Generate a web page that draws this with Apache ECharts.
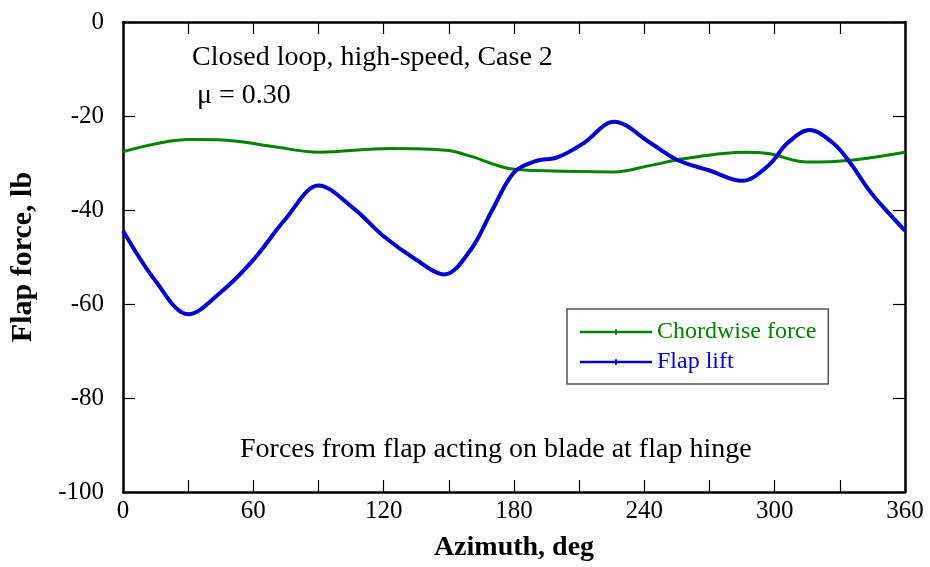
<!DOCTYPE html>
<html><head><meta charset="utf-8">
<script src="https://cdn.jsdelivr.net/npm/echarts@6/dist/echarts.min.js"></script>
<style>html,body{margin:0;padding:0;background:#fff}#c{width:930px;height:567px}</style>
</head><body><div id="c"></div>
<script>
const chordAz = [0, 30, 46, 69, 90, 123, 149, 161, 176, 190, 226, 243, 258, 286, 297, 315, 335, 360];
const chordForce = [-27.6, -25.0, -25.1, -26.5, -27.7, -26.9, -27.3, -28.7, -31.0, -31.6, -31.9, -30.5, -29.1, -27.7, -28.0, -29.8, -29.4, -27.7];
const liftAz = [0, 15, 30, 45, 60, 75, 90, 106, 120, 135, 148, 160, 170, 180, 190, 200, 212, 226, 243, 255, 270, 285, 297, 306, 316, 327, 335, 343, 350, 360];
const flapLift = [-44.4, -55.1, -62.2, -57.5, -50.6, -41.8, -34.8, -39.6, -45.6, -50.6, -53.7, -48.5, -40.0, -32.0, -29.6, -28.8, -25.8, -21.2, -25.8, -29.3, -31.6, -33.8, -30.6, -25.7, -23.0, -25.8, -30.1, -35.5, -39.4, -44.4];
const xTicks = [0, 60, 120, 180, 240, 300, 360];
const seriesNames = ['Chordwise force', 'Flap lift'];

const green = '#008200', blue = '#0000d2';
const font = 'Liberation Serif';
const chart = echarts.init(document.getElementById('c'));
const pair = (xs, ys) => xs.map((x, i) => [x, ys[i]]);
const axLine = {show: true, onZero: false, lineStyle: {color: '#000', width: 2.5}};
const ticks = {show: true, inside: true, length: 12, lineStyle: {color: '#000', width: 1.2}};
const icon = 'path://M0,4 L72,4 L72,6.5 L0,6.5 Z M35,2.5 L37,2.5 L37,8 L35,8 Z';
chart.setOption({
  animation: false,
  grid: {left: 123, right: 25, top: 22, bottom: 75},
  xAxis: [{
    type: 'value', min: 0, max: 360, interval: 30, position: 'bottom',
    name: 'Azimuth, deg', nameLocation: 'middle', nameGap: 42,
    nameTextStyle: {fontFamily: font, fontWeight: 'bold', fontSize: 28, color: '#000'},
    axisLine: axLine, axisTick: ticks, splitLine: {show: false},
    axisLabel: {fontFamily: font, fontSize: 25, color: '#000', margin: 7,
      formatter: v => xTicks.indexOf(v) >= 0 ? String(v) : ''}
  }, {
    type: 'value', min: 0, max: 360, interval: 30, position: 'top',
    axisLine: axLine, axisTick: ticks, axisLabel: {show: false}, splitLine: {show: false}
  }],
  yAxis: [{
    type: 'value', min: -100, max: 0, interval: 20, position: 'left',
    name: 'Flap force, lb', nameLocation: 'middle', nameGap: 85, nameRotate: 90,
    nameTextStyle: {fontFamily: font, fontWeight: 'bold', fontSize: 30, color: '#000'},
    axisLine: axLine, axisTick: ticks, splitLine: {show: false},
    axisLabel: {fontFamily: font, fontSize: 25, color: '#000', margin: 19}
  }, {
    type: 'value', min: -100, max: 0, interval: 20, position: 'right',
    axisLine: axLine, axisTick: ticks, axisLabel: {show: false}, splitLine: {show: false}
  }],
  legend: {
    orient: 'vertical', left: 567, top: 309,
    itemWidth: 72, itemHeight: 10, itemGap: 6,
    backgroundColor: '#fff', borderColor: '#555', borderWidth: 1.5,
    padding: [11, 12, 10, 13],
    textStyle: {fontFamily: font, fontSize: 24},
    data: [
      {name: seriesNames[0], icon: icon, textStyle: {color: green}},
      {name: seriesNames[1], icon: icon, textStyle: {color: blue}}
    ]
  },
  series: [{
    name: seriesNames[0], type: 'line', smooth: 0.35, symbol: 'none',
    data: pair(chordAz, chordForce), color: green,
    lineStyle: {color: green, width: 3}
  }, {
    name: seriesNames[1], type: 'line', smooth: 0.35, symbol: 'none',
    data: pair(liftAz, flapLift), color: blue,
    lineStyle: {color: blue, width: 4}
  }],
  graphic: [
    {type: 'text', left: 192, top: 44, style: {text: 'Closed loop, high-speed, Case 2', font: '28px "Liberation Serif"', fill: '#000'}},
    {type: 'text', left: 197, top: 82, style: {text: 'μ = 0.30', font: '28px "Liberation Serif"', fill: '#000'}},
    {type: 'text', left: 240, top: 436, style: {text: 'Forces from flap acting on blade at flap hinge', font: '28px "Liberation Serif"', fill: '#000'}}
  ]
});
</script></body></html>
